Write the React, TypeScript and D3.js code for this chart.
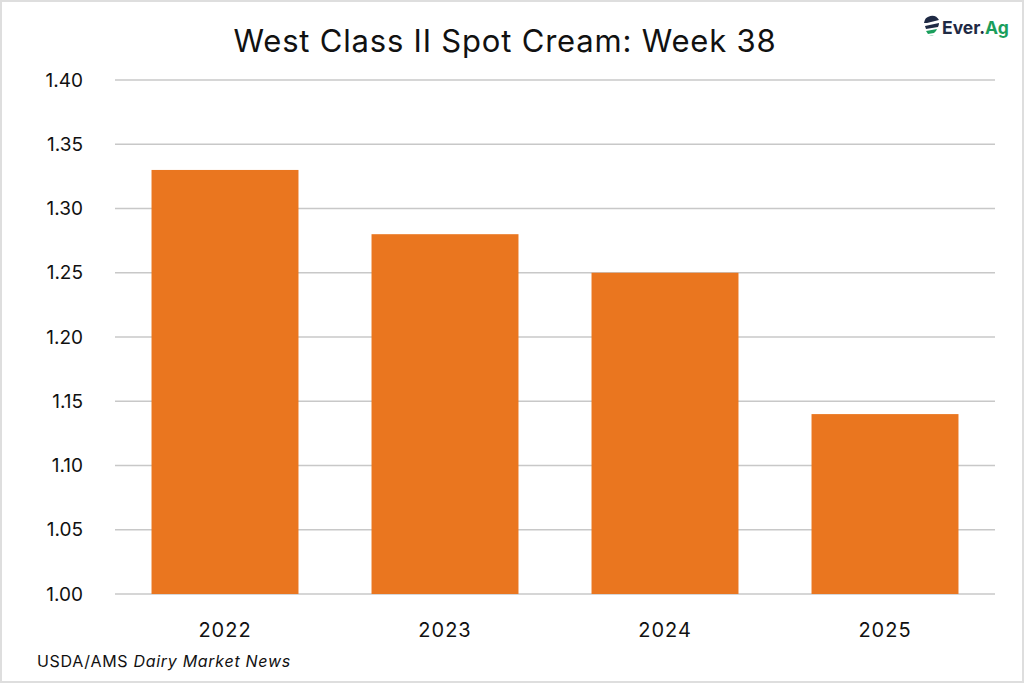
import React from "react";
import * as d3 from "d3";

const categories = ["2022", "2023", "2024", "2025"];
const values = [1.33, 1.28, 1.25, 1.14];
const yTicks = [1.0, 1.05, 1.1, 1.15, 1.2, 1.25, 1.3, 1.35, 1.4];
const title = "West Class II Spot Cream: Week 38";

const W = 1024;
const H = 683;
const FONT = "Inter, 'Open Sans', sans-serif";

export default function App() {
  const x = d3
    .scaleBand<string>()
    .domain(categories)
    .range([115, 995])
    .paddingInner(0.332)
    .paddingOuter(0.166);
  const y = d3.scaleLinear().domain([1.0, 1.4]).range([594, 80]);

  return (
    <svg
      width={W}
      height={H}
      style={{ position: "absolute", left: 0, top: 0, background: "#fff" }}
    >
      <rect x={1} y={1} width={W - 2} height={H - 2} fill="#fff" stroke="#dedede" strokeWidth={2} />
      <text
        x={505}
        y={52}
        textAnchor="middle"
        fontFamily={FONT}
        fontSize={31}
        letterSpacing={0.8}
        fill="#111"
      >
        {title}
      </text>
      {yTicks.map((t) => (
        <g key={t}>
          <line x1={115} x2={995} y1={y(t)} y2={y(t)} stroke="#c8c8c8" strokeWidth={1.5} />
          <text
            x={83}
            y={y(t)}
            dy="0.35em"
            textAnchor="end"
            fontFamily={FONT}
            fontSize={19}
            fill="#111"
          >
            {t.toFixed(2)}
          </text>
        </g>
      ))}
      {categories.map((c, i) => (
        <g key={c}>
          <rect
            x={x(c)}
            y={y(values[i])}
            width={x.bandwidth()}
            height={y(1.0) - y(values[i])}
            fill="#EA761F"
          />
          <text
            x={(x(c) as number) + x.bandwidth() / 2}
            y={637}
            textAnchor="middle"
            fontFamily={FONT}
            fontSize={20}
            letterSpacing={1}
            fill="#111"
          >
            {c}
          </text>
        </g>
      ))}
      <text x={37} y={667} fontFamily={FONT} fontSize={16} letterSpacing={0.7} fill="#111">
        USDA/AMS <tspan fontStyle="italic">Dairy Market News</tspan>
      </text>
      {/* logo */}
      <g transform="translate(924,15)">
        <path d="M0,8 A8,8 0 0 1 15,5 L3,8 Z" fill="#1f2a44" />
        <path d="M1,11 L15,8 A8,8 0 0 1 14,12 L2,14 Z" fill="#1f2a44" />
        <path d="M2,16 L13,14 A8,8 0 0 1 10,18 L4,19 Z" fill="#1a9e5c" />
        <path d="M5,21 L10,20 A8,8 0 0 1 5,21 Z" fill="#1a9e5c" />
      </g>
      <text x={942} y={34} fontFamily={FONT} fontSize={17.5} fontWeight={700} fill="#1f2a44">
        Ever.<tspan fill="#1a9e5c">Ag</tspan>
      </text>
    </svg>
  );
}
